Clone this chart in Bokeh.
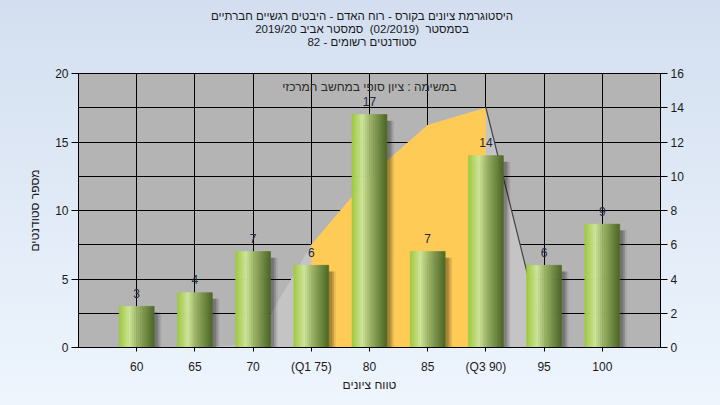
from bokeh.plotting import figure
from bokeh.layouts import column
from bokeh.models import (Range1d, LinearAxis, FixedTicker, Label, ColumnDataSource,
                          GlobalInlineStyleSheet, Div)
from bokeh.transform import dodge
from bokeh.core.properties import value
from bokeh.embed import file_html
from bokeh.resources import INLINE

# ---------------- data ----------------
grades = [60, 65, 70, 75, 80, 85, 90, 95, 100]
tick_labels = ["60", "65", "70", "(Q1 75)", "80", "85", "(Q3 90)", "95", "100"]
counts = [3, 4, 7, 6, 17, 7, 14, 6, 9]
curve = [0, 0, 0.2, 6, 10, 13, 14, 0.4]   # right axis, ends at 95
q1_index = 3
q3_index = 6
left_ticks = [0, 5, 10, 15, 20]
right_ticks = [0, 2, 4, 6, 8, 10, 12, 14, 16]

title_lines = [
    "היסטוגרמת ציונים בקורס - רוח האדם - היבטים רגשיים חברתיים",
    "בסמסטר&nbsp; (02/2019)&nbsp; סמסטר אביב 2019/20",
    "סטודנטים רשומים - 82",
]
note_text = "במשימה : ציון סופי במחשב המרכזי"
x_title = "טווח ציונים"
y_title = "מספר סטודנטים"

FONT = "Liberation Sans"
TXT = "#1a1a1a"

title_div = Div(
    text="<br>".join(title_lines), width=712, height=50, margin=0,
    styles={"font-family": FONT, "font-size": "11.5px", "line-height": "13px",
            "color": TXT, "text-align": "center", "direction": "rtl",
            "padding-top": "10px", "padding-left": "12px", "box-sizing": "border-box"})

p = figure(width=712, height=347, output_backend="svg", toolbar_location=None,
           title=None,
           x_range=Range1d(55, 105), y_range=Range1d(0, 20),
           min_border_left=78, min_border_right=52, min_border_bottom=50,
           min_border_top=23)
p.margin = 0
p.extra_y_ranges = {"right": Range1d(0, 16)}
p.background_fill_color = "#b4b4b4"
p.border_fill_color = None
p.outline_line_color = "black"
p.stylesheets = [GlobalInlineStyleSheet(
    css="html{background:linear-gradient(#d3dff0,#eef5fd) fixed;min-height:100%;} body{background:transparent;}")]

# grids
p.xgrid.ticker = FixedTicker(ticks=grades)
p.ygrid.ticker = FixedTicker(ticks=[t * 20 / 16 for t in right_ticks])
for g in (p.xgrid, p.ygrid):
    g.grid_line_color = "black"
    g.grid_line_width = 1

# axes
xa = p.xaxis[0]
xa.ticker = FixedTicker(ticks=grades)
xa.major_label_overrides = {g: l for g, l in zip(grades, tick_labels)}
xa.axis_label = x_title
xa.major_tick_out = 4
xa.major_tick_in = 0
xa.minor_tick_line_color = None
xa.major_label_standoff = 8

ya = p.yaxis[0]
ya.ticker = FixedTicker(ticks=left_ticks)
ya.axis_label = y_title
ya.major_tick_out = 7
ya.major_tick_in = 0
ya.minor_tick_line_color = None
ya.major_label_standoff = 3

ra = LinearAxis(y_range_name="right", ticker=FixedTicker(ticks=right_ticks))
ra.major_tick_out = 7
ra.major_tick_in = 0
ra.minor_tick_line_color = None
ra.major_label_standoff = 3
p.add_layout(ra, "right")

for ax in (xa, ya, ra):
    ax.axis_line_color = "black"
    ax.major_tick_line_color = "black"
    ax.major_label_text_font = FONT
    ax.major_label_text_font_size = "12px"
    ax.major_label_text_color = TXT
    ax.axis_label_text_font = FONT
    ax.axis_label_text_font_size = "12px"
    ax.axis_label_text_font_style = "normal"
    ax.axis_label_text_color = TXT
xa.axis_label_standoff = 1
ya.axis_label_standoff = 10

# area (right axis)
n = len(curve)
p.varea(x=grades[:n], y1=[0] * n, y2=curve, fill_color="#c4c4c4",
        y_range_name="right")
p.varea(x=grades[q1_index:q3_index + 1], y1=[0] * (q3_index - q1_index + 1),
        y2=curve[q1_index:q3_index + 1], fill_color="#fecb57", y_range_name="right")
p.line(x=grades[q3_index:q3_index + 2], y=curve[q3_index:q3_index + 2],
       line_color="#444444", line_width=1.2, y_range_name="right")

# bars
src = ColumnDataSource(dict(x=grades, top=counts, lab=[str(c) for c in counts]))
BW = 3.0
# shadow
for off, a in [(0.6, 0.09), (0.45, 0.13), (0.3, 0.17)]:
    p.vbar(x=dodge("x", off, range=p.x_range), top=dodge("top", -0.45, range=p.y_range),
           width=BW, bottom=0, source=src, fill_color="black", fill_alpha=a, line_color=None)

stops = [(0.0, (0x9c, 0xc8, 0x3a)), (0.3, (0xcf, 0xe6, 0x9a)), (0.55, (0x98, 0xb0, 0x65)),
         (1.0, (0x4c, 0x66, 0x24))]


def col(t):
    for (t0, c0), (t1, c1) in zip(stops[:-1], stops[1:]):
        if t0 <= t <= t1:
            f = (t - t0) / (t1 - t0)
            return "#%02x%02x%02x" % tuple(int(round(a + (b - a) * f)) for a, b in zip(c0, c1))
    return "#%02x%02x%02x" % stops[-1][1]


N = 18
sw = BW / N
for i in range(N):
    t = (i + 0.5) / N
    off = -BW / 2 + sw * (i + 0.5)
    c = col(t)
    p.vbar(x=dodge("x", off, range=p.x_range), top="top", width=sw, bottom=0, source=src,
           fill_color=c, line_color=c, line_width=0.6)

p.text(x="x", y=dodge("top", 0.95, range=p.y_range), text="lab", source=src,
       text_align="center", text_baseline="middle", text_font=value(FONT),
       text_font_size="12px", text_color="#1e2a3e")

p.add_layout(Label(x=80, y=19.05, text=note_text, text_align="center", text_baseline="middle",
                   text_font=FONT, text_font_size="12px", text_color="#2a2a2a"))

layout = column(title_div, p, spacing=0, margin=0)
open("out.html", "w").write(file_html(layout, INLINE))
